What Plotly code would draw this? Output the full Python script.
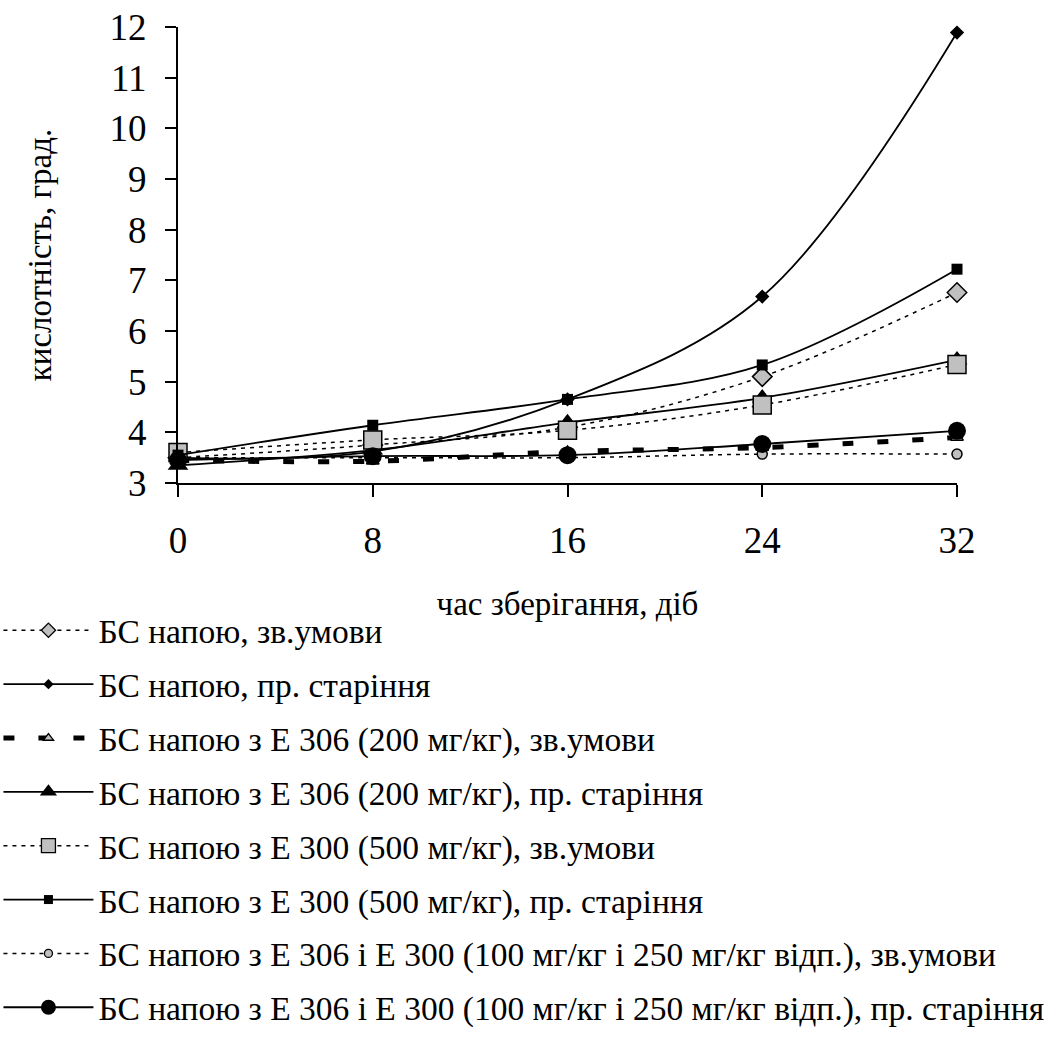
import plotly.graph_objects as go

days = [0, 8, 16, 24, 32]
names = [
    "БС напою, зв.умови",
    "БС напою, пр. старіння",
    "БС напою з Е 306 (200 мг/кг), зв.умови",
    "БС напою з Е 306 (200 мг/кг), пр. старіння",
    "БС напою з Е 300 (500 мг/кг), зв.умови",
    "БС напою з Е 300 (500 мг/кг), пр. старіння",
    "БС напою з Е 306 і Е 300 (100 мг/кг і 250 мг/кг відп.), зв.умови",
    "БС напою з Е 306 і Е 300 (100 мг/кг і 250 мг/кг відп.), пр. старіння",
]
bs_zv = [3.5, 3.75, 4.1, 5.1, 6.76]
bs_pr = [3.5, 3.62, 4.65, 6.68, 11.89]
e306_zv = [3.45, 3.43, 3.62, 3.7, 3.9]
e306_pr = [3.35, 3.65, 4.19, 4.68, 5.43]
e300_zv = [3.6, 3.85, 4.04, 4.54, 5.34]
e300_pr = [3.55, 4.14, 4.65, 5.33, 7.22]
mix_zv = [3.5, 3.5, 3.5, 3.57, 3.57]
mix_pr = [3.45, 3.53, 3.55, 3.77, 4.03]

series = [bs_zv, bs_pr, e306_zv, e306_pr, e300_zv, e300_pr, mix_zv, mix_pr]
GRAY = "#c0c0c0"
dot = "4px,5px"
lines = [
    dict(color="black", width=1.5, dash=dot),
    dict(color="black", width=1.8),
    dict(color="black", width=5, dash="11px,24px"),
    dict(color="black", width=1.8),
    dict(color="black", width=1.5, dash=dot),
    dict(color="black", width=1.8),
    dict(color="black", width=1.5, dash=dot),
    dict(color="black", width=1.8),
]
symbols = ["diamond", "diamond", "triangle-up", "triangle-up", "square", "square", "circle", "circle"]
fills = [GRAY, "black", GRAY, "black", GRAY, "black", GRAY, "black"]
plot_sizes = [15, 11, 11, 18, 18, 11, 10, 18]
legend_sizes = [11, 8, 9, 15, 14, 9, 8, 15]

fig = go.Figure()
for i in range(len(series)):
    outline = dict(color="black", width=1.5) if fills[i] == GRAY else dict(width=0)
    fig.add_trace(go.Scatter(
        x=days, y=series[i], name=names[i], mode="lines+markers",
        line=dict(shape="spline", smoothing=1, **lines[i]),
        marker=dict(symbol=symbols[i], size=plot_sizes[i], color=fills[i], line=outline),
        cliponaxis=False, showlegend=False,
    ))
for i in range(len(series)):
    outline = dict(color="black", width=1.3) if fills[i] == GRAY else dict(width=0)
    fig.add_trace(go.Scatter(
        x=[None], y=[None], name=names[i], mode="lines+markers",
        line=lines[i],
        marker=dict(symbol=symbols[i], size=legend_sizes[i], color=fills[i], line=outline),
        legendgroup=str(i), showlegend=True,
    ))

FONT = "Liberation Serif"
fig.update_layout(
    width=1056, height=1047,
    margin=dict(l=178, r=99, t=27, b=564, autoexpand=False),
    paper_bgcolor="white", plot_bgcolor="white",
    font=dict(family=FONT, color="black", size=33),
    showlegend=True,
    legend=dict(
        x=-0.2305, y=-0.2610, xanchor="left", yanchor="top",
        font=dict(family=FONT, size=33.5, color="black"),
        itemwidth=90, tracegroupgap=7.3, traceorder="grouped",
        bgcolor="rgba(0,0,0,0)",
    ),
    xaxis=dict(
        range=[0, 32], tickvals=days, ticktext=[str(d) for d in days],
        showgrid=False, zeroline=False, showline=True, linecolor="black", linewidth=2,
        ticks="outside", ticklen=12, tickwidth=2, tickcolor="black", automargin=False,
        tickfont=dict(family=FONT, size=37), ticklabelstandoff=12,
        title=dict(text="час зберігання, діб", font=dict(family=FONT, size=33), standoff=31),
    ),
    yaxis=dict(
        range=[3, 12], tickvals=list(range(3, 13)),
        showgrid=False, zeroline=False, showline=True, linecolor="black", linewidth=2,
        ticks="outside", ticklen=11, tickwidth=2, tickcolor="black", automargin=False,
        tickfont=dict(family=FONT, size=37), ticklabelstandoff=11,
        title=dict(text="кислотність, град.", font=dict(family=FONT, size=33), standoff=48),
    ),
)
fig.write_html("out.html")
